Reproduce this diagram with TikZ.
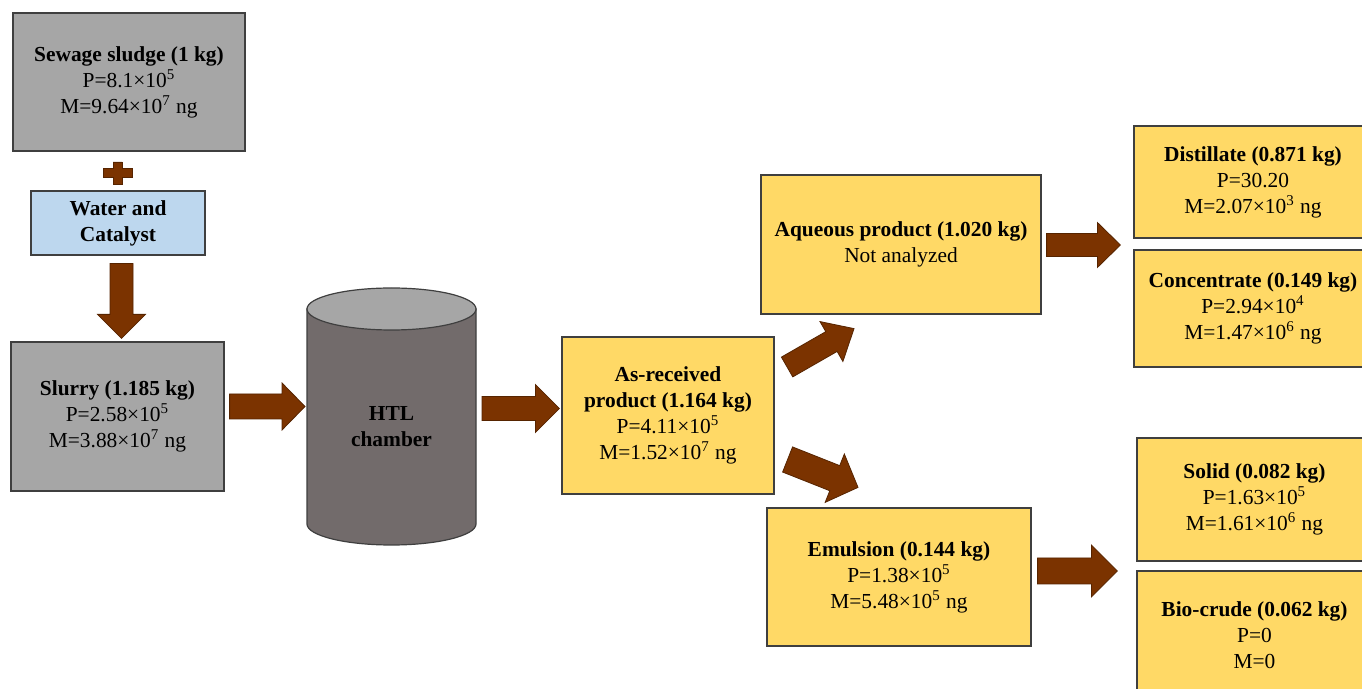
\documentclass[tikz,border=0pt]{standalone}
\usepackage{fontspec}
\setmainfont{Liberation Serif}
\usetikzlibrary{calc}
\definecolor{boxgray}{HTML}{A6A6A6}
\definecolor{boxblue}{HTML}{BDD7EE}
\definecolor{boxyellow}{HTML}{FFD966}
\definecolor{arrbrown}{HTML}{7B3300}
\definecolor{cylbody}{HTML}{726B6B}
\definecolor{edge}{HTML}{3F3F3F}
\newcommand\fatarrow[5]{% tail, tip, shaft half, head half, head length
  \coordinate (#1-#2-hb) at ($(#2)!#5!(#1)$);
  \filldraw[barrow] ($(#1)!#3!90:(#2)$) -- ($(#1-#2-hb)!#3!90:(#2)$) -- ($(#1-#2-hb)!#4!90:(#2)$) -- (#2)
    -- ($(#1-#2-hb)!#4!-90:(#2)$) -- ($(#1-#2-hb)!#3!-90:(#2)$) -- ($(#1)!#3!-90:(#2)$) -- cycle;}
\begin{document}
\begin{tikzpicture}[x=0.5pt,y=-0.5pt,
  box/.style={draw=edge, line width=0.6pt, align=center, inner sep=0pt,
    font={\fontsize{10.7}{13}\selectfont}},
  graybox/.style={box, fill=boxgray},
  yelbox/.style={box, fill=boxyellow},
  barrow/.style={fill=arrbrown, draw=arrbrown!70!black, line width=0.4pt, line join=miter}]
\useasboundingbox (0,0) rectangle (1362,689);
\fill[white] (0,0) rectangle (1362,689);

% boxes
\node[graybox, minimum width=116pt, minimum height=69pt] (sewage) at (129,82)
  {\textbf{Sewage sludge (1 kg)}\\P=8.1×10\textsuperscript{5}\\M=9.64×10\textsuperscript{7} ng};
\node[box, fill=boxblue, minimum width=87pt, minimum height=32pt] (water) at (118,223)
  {\textbf{Water and}\\\textbf{Catalyst}};
\node[graybox, minimum width=106.5pt, minimum height=74.5pt] (slurry) at (117.5,416.5)
  {\textbf{Slurry (1.185 kg)}\\P=2.58×10\textsuperscript{5}\\M=3.88×10\textsuperscript{7} ng};
\node[yelbox, minimum width=106pt, minimum height=78.5pt] (asrec) at (668,415.5)
  {\textbf{As-received}\\\textbf{product (1.164 kg)}\\P=4.11×10\textsuperscript{5}\\M=1.52×10\textsuperscript{7} ng};
\node[yelbox, minimum width=140pt, minimum height=69.5pt] (aqueous) at (901,244.5)
  {\textbf{Aqueous product (1.020 kg)}\\Not analyzed};
\node[yelbox, minimum width=132pt, minimum height=69pt] (emulsion) at (899,577)
  {\textbf{Emulsion (0.144 kg)}\\P=1.38×10\textsuperscript{5}\\M=5.48×10\textsuperscript{5} ng};
\node[yelbox, minimum width=119pt, minimum height=56pt] (distillate) at (1253,182)
  {\textbf{Distillate (0.871 kg)}\\P=30.20\\M=2.07×10\textsuperscript{3} ng};
\node[yelbox, minimum width=119pt, minimum height=58.5pt] (concentrate) at (1253,308.5)
  {\textbf{Concentrate (0.149 kg)}\\P=2.94×10\textsuperscript{4}\\M=1.47×10\textsuperscript{6} ng};
\node[yelbox, minimum width=117.5pt, minimum height=61.5pt] (solid) at (1254.5,499.5)
  {\textbf{Solid (0.082 kg)}\\P=1.63×10\textsuperscript{5}\\M=1.61×10\textsuperscript{6} ng};
\node[yelbox, minimum width=117.5pt, minimum height=64.5pt] (biocrude) at (1254.5,635.5)
  {\textbf{Bio-crude (0.062 kg)}\\P=0\\M=0};

% plus sign
\filldraw[barrow] (103,168.5) -- (113,168.5) -- (113,162) -- (122,162) -- (122,168.5) -- (132,168.5)
  -- (132,177.5) -- (122,177.5) -- (122,184) -- (113,184) -- (113,177.5) -- (103,177.5) -- cycle;

% HTL cylinder
\filldraw[fill=cylbody, draw=edge, line width=0.6pt] (307,309) -- (307,524)
  arc[start angle=180, end angle=0, x radius=84.5, y radius=21] -- (476,309) -- cycle;
\filldraw[fill=boxgray, draw=edge, line width=0.6pt] (391.5,309) ellipse[x radius=84.5, y radius=21];
\node[align=center, inner sep=0pt, font={\fontsize{10.7}{13}\selectfont\bfseries}] (htl) at (391.5,427) {HTL\\chamber};
\coordinate (cylW) at (307,406.5);
\coordinate (cylE) at (476,408.5);

% arrow end points
\coordinate (a1s) at ($(water.south)+(3.5,8)$);
\coordinate (a1t) at ($(slurry.north)+(4,-3)$);
\coordinate (a2s) at ($(slurry.east)+(5,-10)$);
\coordinate (a2t) at ($(cylW)+(-2,0)$);
\coordinate (a3s) at ($(cylE)+(6,0)$);
\coordinate (a3t) at ($(asrec.west)+(-2,-7)$);
\coordinate (a4s) at ($(asrec.east)+(12.5,-48.5)$);
\coordinate (a4t) at ($(aqueous.south)+(-47,14)$);
\coordinate (a5s) at ($(asrec.east)+(13,44)$);
\coordinate (a5t) at ($(emulsion.north)+(-41,-20)$);
\coordinate (a6s) at ($(aqueous.east)+(5,0.5)$);
\coordinate (a6t) at ($(distillate.west)!0.5!(concentrate.west)+(-13,-0.25)$);
\coordinate (a7s) at ($(emulsion.east)+(6,-6)$);
\coordinate (a7t) at ($(solid.west)!0.5!(biocrude.west)+(-19,3.5)$);

\fatarrow{a1s}{a1t}{5.75pt}{12pt}{12pt}
\fatarrow{a2s}{a2t}{6.25pt}{11.75pt}{11.5pt}
\fatarrow{a3s}{a3t}{6pt}{12pt}{12pt}
\fatarrow{a4s}{a4t}{5.7pt}{11.5pt}{13pt}
\fatarrow{a5s}{a5t}{6.75pt}{13pt}{12.5pt}
\fatarrow{a6s}{a6t}{5.75pt}{11.25pt}{11.5pt}
\fatarrow{a7s}{a7t}{6.5pt}{13pt}{13pt}
\end{tikzpicture}
\end{document}
